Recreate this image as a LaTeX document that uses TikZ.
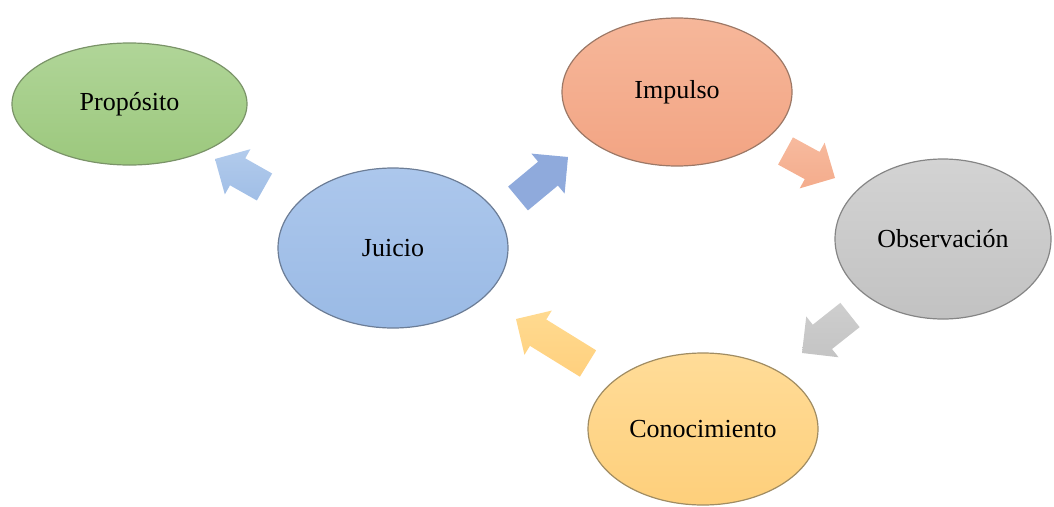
\documentclass[tikz,border=0pt]{standalone}
\usepackage{fontspec}
\setmainfont{Liberation Serif}
\usetikzlibrary{calc,shapes.geometric}
\definecolor{gTop}{HTML}{B0D598}\definecolor{gBot}{HTML}{9CC87D}\definecolor{gLine}{HTML}{7A9368}
\definecolor{oTop}{HTML}{F6B79A}\definecolor{oBot}{HTML}{F2A483}\definecolor{oLine}{HTML}{9C7866}
\definecolor{bTop}{HTML}{ACC7EC}\definecolor{bBot}{HTML}{9ABAE5}\definecolor{bLine}{HTML}{6C7D96}
\definecolor{sTop}{HTML}{D3D3D3}\definecolor{sBot}{HTML}{C2C2C2}\definecolor{sLine}{HTML}{858585}
\definecolor{yTop}{HTML}{FFDC98}\definecolor{yBot}{HTML}{FECF7B}\definecolor{yLine}{HTML}{A08C62}
\newcommand\blockarrow[3]{%
  \coordinate (#1h) at ($(#2)!26pt!(#1)$);
  \path[#3] ($(#1)!15.5pt!90:(#2)$) -- ($(#1h)!15.5pt!90:(#2)$) -- ($(#1h)!26pt!90:(#2)$) -- (#2)
    -- ($(#1h)!26pt!-90:(#2)$) -- ($(#1h)!15.5pt!-90:(#2)$) -- ($(#1)!15.5pt!-90:(#2)$) -- cycle;}
\begin{document}
\begin{tikzpicture}[x=1pt,y=-1pt,
  bubble/.style={ellipse, inner sep=0pt, line width=1.2pt, font=\fontsize{26}{30}\selectfont},
  arr/.style={draw=none}]
\useasboundingbox (0,0) rectangle (1054,506);
\node[bubble, draw=gLine, top color=gTop, bottom color=gBot, minimum width=235pt, minimum height=122pt] (proposito) at (129.5,104) {Propósito};
\node[bubble, draw=oLine, top color=oTop, bottom color=oBot, minimum width=230pt, minimum height=148pt] (impulso) at (677,92) {Impulso};
\node[bubble, draw=bLine, top color=bTop, bottom color=bBot, minimum width=230pt, minimum height=160pt] (juicio) at (393,248) {Juicio};
\node[bubble, draw=sLine, top color=sTop, bottom color=sBot, minimum width=216pt, minimum height=160pt] (observacion) at (943,239) {Observación};
\node[bubble, draw=yLine, top color=yTop, bottom color=yBot, minimum width=230pt, minimum height=152pt] (conocimiento) at (703,429) {Conocimiento};
\coordinate (a1) at (264.5,187); \coordinate (b1) at (215,159);
\coordinate (a2) at (518,198.5); \coordinate (b2) at (568,157);
\coordinate (a3) at (785.5,151); \coordinate (b3) at (835,178);
\coordinate (a4) at (850,315);   \coordinate (b4) at (802,353);
\coordinate (a5) at (588,363.5); \coordinate (b5) at (516,319);
\blockarrow{a1}{b1}{arr, top color={rgb,255:red,178;green,203;blue,236}, bottom color={rgb,255:red,160;green,190;blue,230}}
\blockarrow{a2}{b2}{arr, fill={rgb,255:red,143;green,170;blue,220}}
\blockarrow{a3}{b3}{arr, top color={rgb,255:red,247;green,186;blue,158}, bottom color={rgb,255:red,244;green,172;blue,140}}
\blockarrow{a4}{b4}{arr, top color={rgb,255:red,206;green,206;blue,206}, bottom color={rgb,255:red,196;green,196;blue,196}}
\blockarrow{a5}{b5}{arr, top color={rgb,255:red,255;green,218;blue,144}, bottom color={rgb,255:red,255;green,208;blue,126}}
\end{tikzpicture}
\end{document}
